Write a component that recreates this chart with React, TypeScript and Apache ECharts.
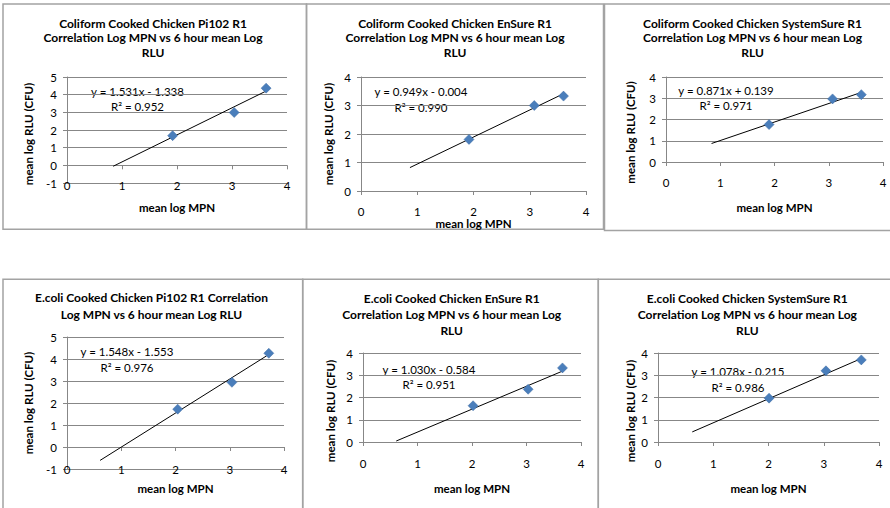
import React, { useEffect, useRef } from 'react';
import * as echarts from 'echarts';

// ---------- data ----------
const panelTitles = [
  'Coliform Cooked Chicken Pi102 R1\nCorrelation Log MPN vs 6 hour mean Log\nRLU',
  'Coliform Cooked Chicken EnSure R1\nCorrelation Log MPN vs 6 hour mean Log\nRLU',
  'Coliform Cooked Chicken SystemSure R1\nCorrelation Log MPN vs 6 hour mean Log\nRLU',
  'E.coli Cooked Chicken Pi102 R1 Correlation\nLog MPN vs 6 hour mean Log RLU',
  'E.coli Cooked Chicken EnSure R1\nCorrelation Log MPN vs 6 hour mean Log\nRLU',
  'E.coli Cooked Chicken SystemSure R1\nCorrelation Log MPN vs 6 hour mean Log\nRLU',
];
const xAxisTitle = 'mean log MPN';
const yAxisTitle = 'mean log RLU (CFU)';

const meanLogMPN = [
  [1.92, 3.04, 3.62],
  [1.92, 3.08, 3.6],
  [1.9, 3.07, 3.6],
  [2.04, 3.04, 3.72],
  [2.02, 3.03, 3.66],
  [2.01, 3.04, 3.68],
];
const meanLogRLU = [
  [1.68, 2.99, 4.37],
  [1.81, 3.0, 3.33],
  [1.76, 2.97, 3.17],
  [1.72, 2.94, 4.26],
  [1.63, 2.37, 3.33],
  [1.97, 3.2, 3.69],
];
const trendSlope = [1.531, 0.949, 0.871, 1.548, 1.03, 1.078];
const trendIntercept = [-1.338, -0.004, 0.139, -1.553, -0.584, -0.215];
const trendR2 = [0.952, 0.99, 0.971, 0.976, 0.951, 0.986];
const trendFrom = [0.84, 0.87, 0.84, 0.61, 0.61, 0.62];
const trendTo = [3.6, 3.58, 3.6, 3.68, 3.66, 3.68];
const yMinValues = [-1, 0, 0, -1, 0, 0];
const yMaxValues = [5, 4, 4, 5, 4, 4];
const xMinValue = 0;
const xMaxValue = 4;

// ---------- layout ----------
const layouts = [
  { grid: { left: 67, top: 77, width: 220, height: 106 }, labelMargin: 2, nameGap: 24, title: [153, 37.5, 14.5], eq: [137.5, 98.5, 15], yName: [28, 134] },
  { grid: { left: 361, top: 77, width: 225, height: 114 }, labelMargin: 20, nameGap: 29, title: [455, 37.5, 14.5], eq: [421, 99, 16], yName: [328, 134] },
  { grid: { left: 666, top: 77, width: 217, height: 85 }, labelMargin: 20, nameGap: 45, title: [752.5, 37.5, 14.5], eq: [726, 98.3, 15.3], yName: [630, 132.5] },
  { grid: { left: 67, top: 337, width: 217, height: 132 }, labelMargin: 0, nameGap: 19.5, title: [151.5, 306, 16.6], eq: [127, 359.7, 16], yName: [28, 403] },
  { grid: { left: 363, top: 353, width: 218, height: 89 }, labelMargin: 21, nameGap: 46.5, title: [451.7, 314.7, 16.3], eq: [429, 376.8, 15], yName: [330, 411] },
  { grid: { left: 658, top: 353, width: 221, height: 89 }, labelMargin: 21, nameGap: 46, title: [747.3, 314.7, 16.3], eq: [738, 379.5, 15.6], yName: [630, 411] },
];
const boxes = [
  [3, 4, 303.5, 225.3],
  [306.5, 4, 297, 225.3],
  [604.5, 4, 300, 226.5],
  [3, 279.3, 299.7, 240],
  [302.7, 279.3, 295.6, 240],
  [598.3, 279.3, 300, 240],
];

const FONT = 'Lato, "Liberation Sans", sans-serif';
const GRID_COLOR = '#878787';
const MARKER = '#4a7ebb';

function fmtEq(i: number) {
  const b = trendIntercept[i];
  return `y = ${trendSlope[i].toFixed(3)}x ${b < 0 ? '-' : '+'} ${Math.abs(b).toFixed(3)}\nR² = ${trendR2[i].toFixed(3)}`;
}

function buildOption() {
  const grid: any[] = [];
  const xAxis: any[] = [];
  const yAxis: any[] = [];
  const series: any[] = [];
  const graphic: any[] = [];

  layouts.forEach((l, i) => {
    grid.push({ ...l.grid, containLabel: false, outerBoundsMode: 'none' });
    // axis line + ticks (crosses at y = 0)
    xAxis.push({
      type: 'value', gridIndex: i, min: xMinValue, max: xMaxValue, interval: 1, position: 'bottom',
      axisLine: { show: true, onZero: true, lineStyle: { color: GRID_COLOR, width: 1 } },
      axisTick: { show: true, length: 4, lineStyle: { color: GRID_COLOR } },
      axisLabel: { show: false },
      splitLine: { show: false },
    });
    // labels at the bottom of the plot area
    xAxis.push({
      type: 'value', gridIndex: i, min: xMinValue, max: xMaxValue, interval: 1, position: 'bottom',
      axisLine: { show: false, onZero: false },
      axisTick: { show: false },
      axisLabel: { show: true, margin: l.labelMargin, verticalAlign: 'middle', color: '#000', fontFamily: FONT, fontSize: 11.5, showMinLabel: true, showMaxLabel: true },
      splitLine: { show: false },
      name: xAxisTitle, nameLocation: 'middle', nameGap: l.nameGap,
      nameTextStyle: { color: '#000', fontFamily: FONT, fontSize: 11.5, fontWeight: 'bold', verticalAlign: 'middle' },
    });
    yAxis.push({
      type: 'value', gridIndex: i, min: yMinValues[i], max: yMaxValues[i], interval: 1,
      axisLine: { show: true, onZero: false, lineStyle: { color: GRID_COLOR, width: 1 } },
      axisTick: { show: true, length: 4, lineStyle: { color: GRID_COLOR } },
      axisLabel: { margin: 10, color: '#000', fontFamily: FONT, fontSize: 11.5, showMinLabel: true, showMaxLabel: true },
      splitLine: { show: true, lineStyle: { color: GRID_COLOR, width: 1 } },
    });
    series.push({
      type: 'line', xAxisIndex: 2 * i, yAxisIndex: i, symbol: 'none', silent: true,
      lineStyle: { color: '#000', width: 1 },
      data: [
        [trendFrom[i], trendSlope[i] * trendFrom[i] + trendIntercept[i]],
        [trendTo[i], trendSlope[i] * trendTo[i] + trendIntercept[i]],
      ],
      z: 2,
    });
    series.push({
      type: 'scatter', xAxisIndex: 2 * i, yAxisIndex: i, symbol: 'diamond', symbolSize: [10, 10],
      itemStyle: { color: MARKER, borderColor: '#3c6aa3', borderWidth: 0.5, opacity: 1 },
      data: meanLogMPN[i].map((x, k) => [x, meanLogRLU[i][k]]),
      z: 3,
    });

    const b = boxes[i];
    graphic.push({
      type: 'rect', shape: { x: b[0], y: b[1], width: b[2], height: b[3] }, silent: true, z: -1,
      style: { fill: 'none', stroke: '#a3a3a3', lineWidth: 1.5 },
    });
    graphic.push({
      type: 'text', x: l.title[0], y: l.title[1], silent: true,
      style: { text: panelTitles[i], align: 'center', verticalAlign: 'middle', fill: '#000', font: `bold 12px ${FONT}`, lineHeight: l.title[2] },
    });
    graphic.push({
      type: 'text', x: l.eq[0], y: l.eq[1], silent: true,
      style: { text: fmtEq(i), align: 'center', verticalAlign: 'middle', fill: '#000', font: `11.5px ${FONT}`, lineHeight: l.eq[2] },
    });
    graphic.push({
      type: 'text', x: l.yName[0], y: l.yName[1], rotation: Math.PI / 2, silent: true,
      style: { text: yAxisTitle, align: 'center', verticalAlign: 'middle', fill: '#000', font: `bold 11.5px ${FONT}` },
    });
  });

  return { animation: false, backgroundColor: '#fff', grid, xAxis, yAxis, series, graphic };
}

export default function App() {
  const ref = useRef<HTMLDivElement>(null);
  useEffect(() => {
    if (!ref.current) return;
    const chart = echarts.init(ref.current, undefined, { renderer: 'svg' });
    chart.setOption(buildOption() as any);
    return () => chart.dispose();
  }, []);
  return (
    <div
      ref={ref}
      style={{ position: 'fixed', left: 0, top: 0, width: 890, height: 508, background: '#fff' }}
    />
  );
}
